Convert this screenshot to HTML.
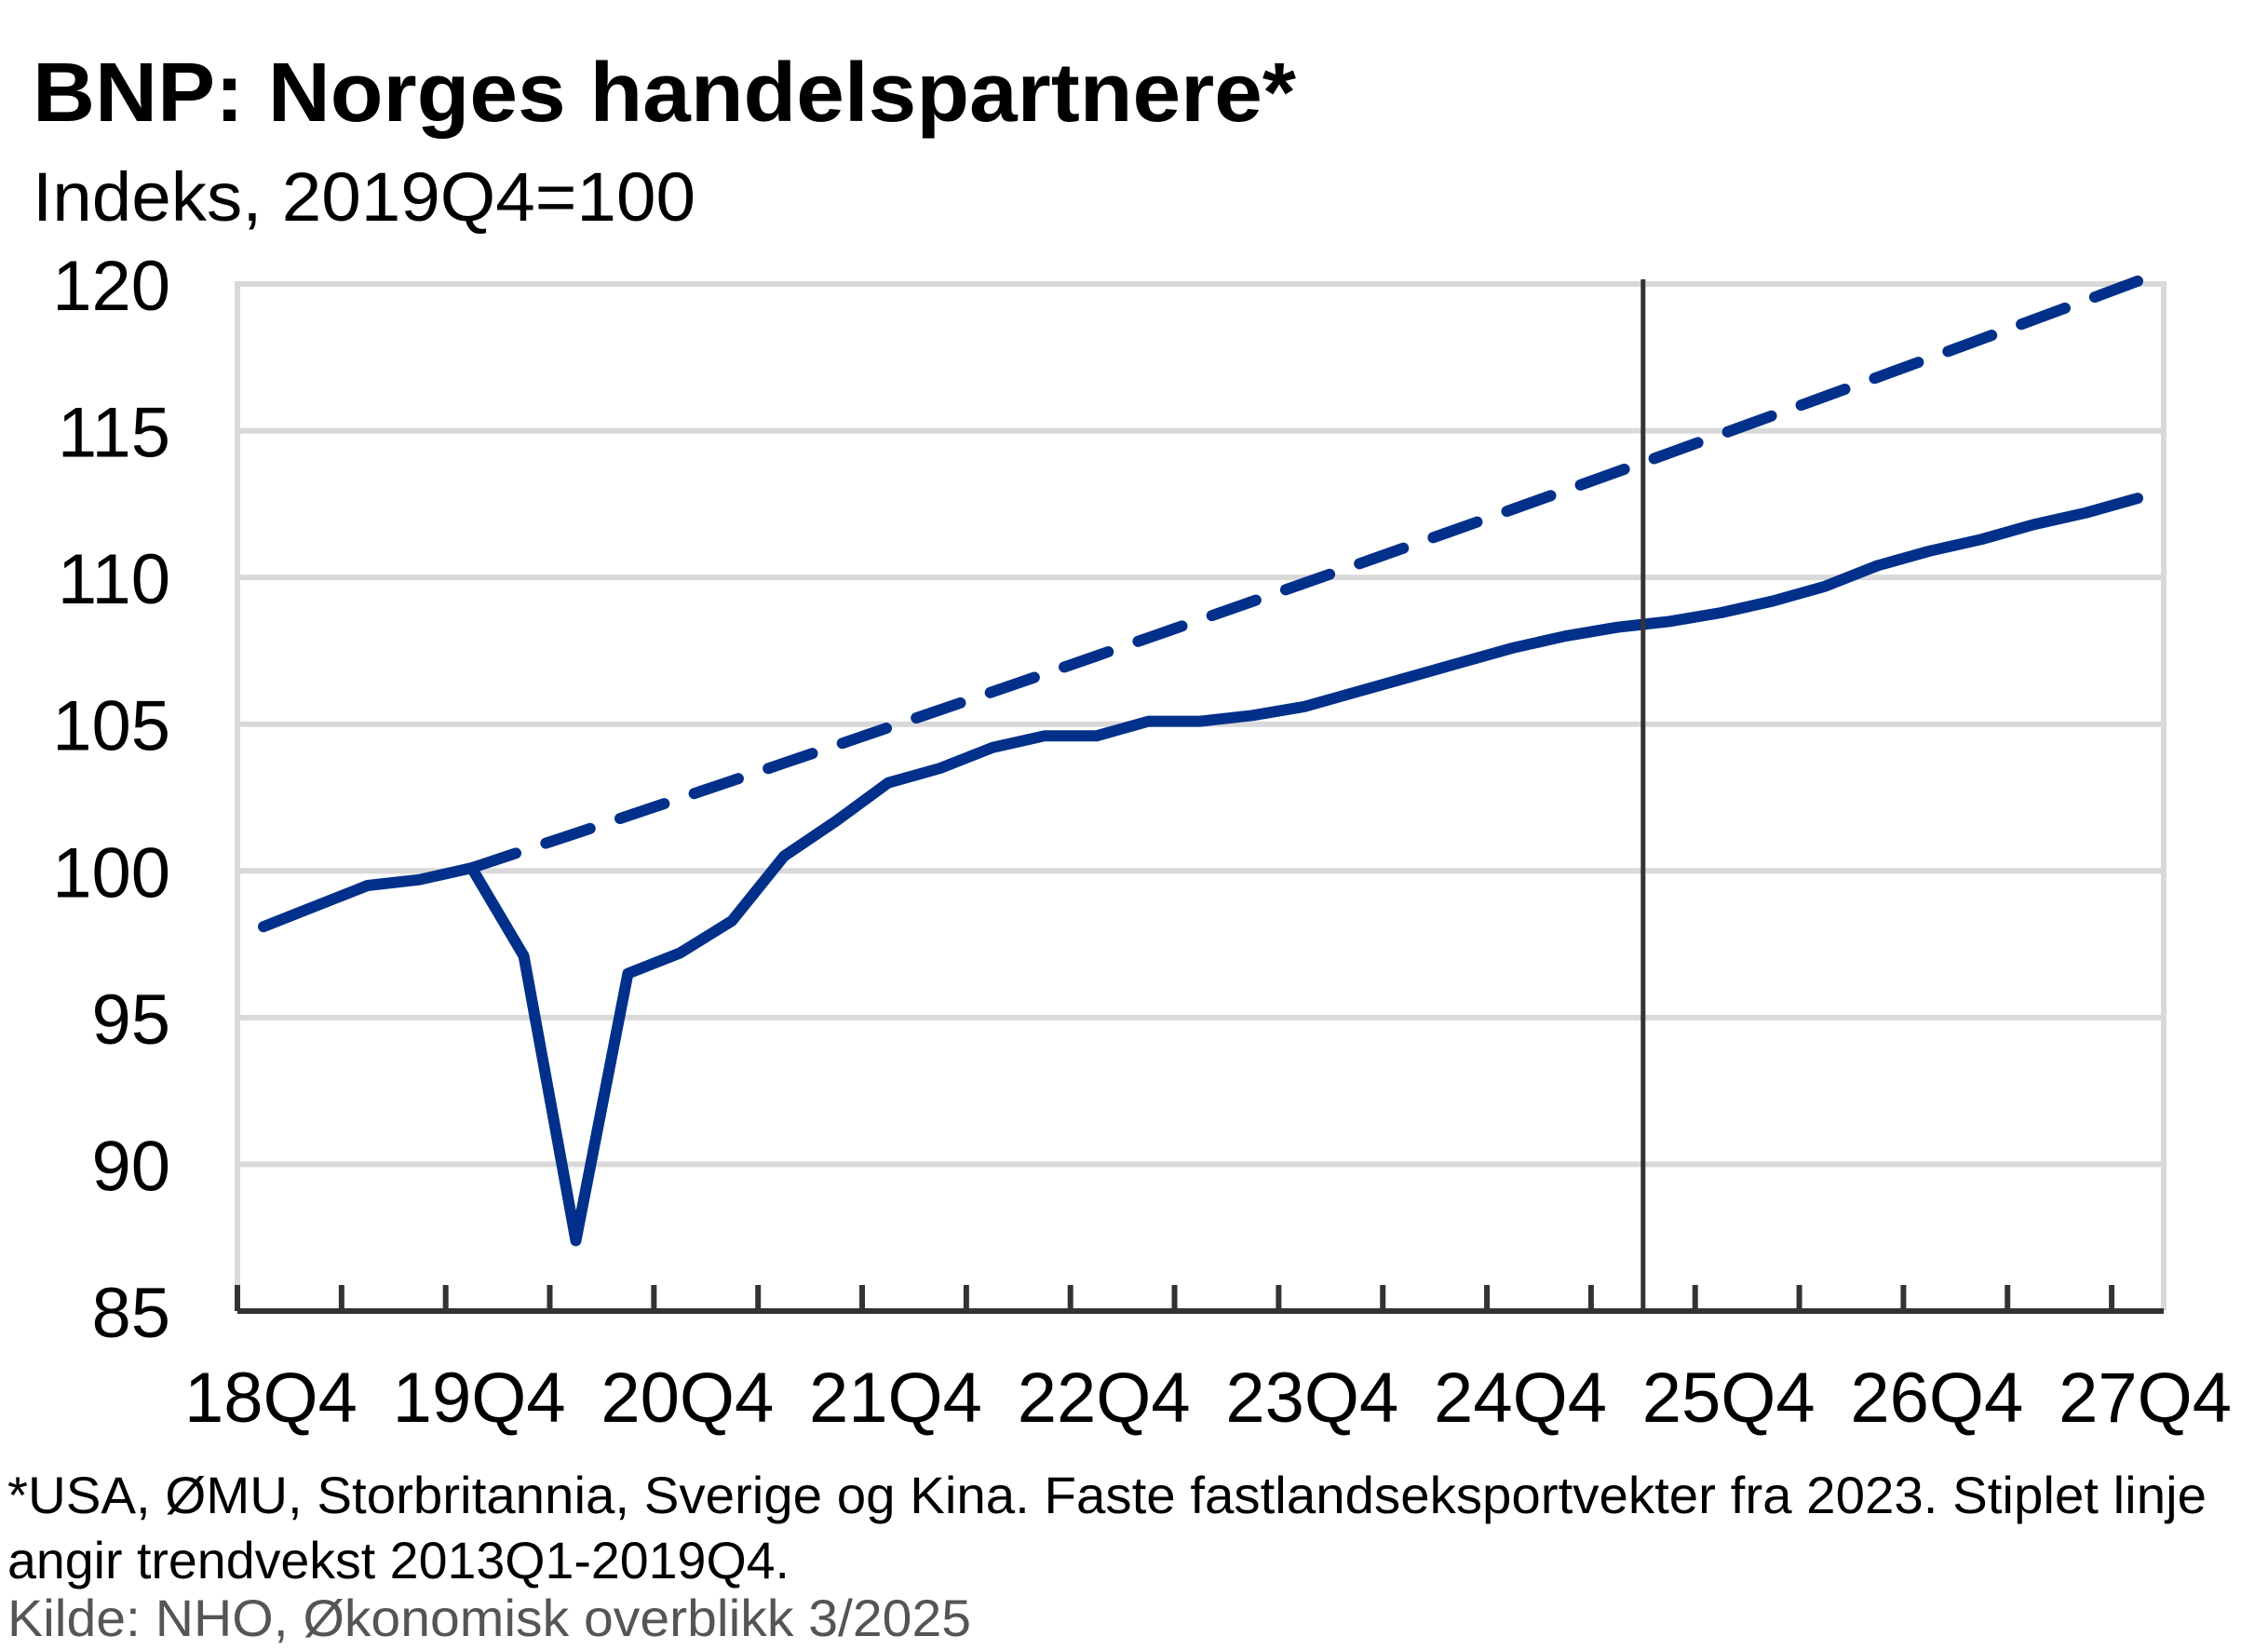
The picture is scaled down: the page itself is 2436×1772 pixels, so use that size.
<!DOCTYPE html>
<html><head><meta charset="utf-8"><style>
html,body{margin:0;padding:0;background:#fff}
svg{display:block}
text{font-family:"Liberation Sans",sans-serif}
</style></head><body>
<svg id="s" width="2436" height="1772" viewBox="0 0 2436 1772" xmlns="http://www.w3.org/2000/svg">
<text x="35" y="130" font-size="90" font-weight="bold" textLength="1357" lengthAdjust="spacingAndGlyphs" fill="#000">BNP:  Norges  handelspartnere*</text>
<text x="35" y="237" font-size="74" textLength="712" lengthAdjust="spacingAndGlyphs" fill="#000">Indeks, 2019Q4=100</text>
<g id="grid"></g>
<g id="lab" font-size="76" fill="#000"></g>
<text x="8" y="1625" font-size="56" textLength="2362" lengthAdjust="spacingAndGlyphs" fill="#000">*USA, ØMU, Storbritannia, Sverige og Kina. Faste fastlandseksportvekter fra 2023. Stiplet linje</text>
<text x="8" y="1695" font-size="56" textLength="840" lengthAdjust="spacingAndGlyphs" fill="#000">angir trendvekst 2013Q1-2019Q4.</text>
<text x="8" y="1757" font-size="56" textLength="1035" lengthAdjust="spacingAndGlyphs" fill="#555">Kilde: NHO, Økonomisk overblikk 3/2025</text>
</svg>
<script>
var NS="http://www.w3.org/2000/svg";
var L=255,R=2324,T=305,B=1408,n=37,w=(R-L)/n;
function Y(v){return B-(v-85)*(B-T)/35;}
function X(i){return L+(i+0.5)*w;}
function el(t,a,p,txt){var e=document.createElementNS(NS,t);for(var k in a)e.setAttribute(k,a[k]);if(txt)e.textContent=txt;p.appendChild(e);return e;}
var g=document.getElementById('grid'),s=document.getElementById('s'),lab=document.getElementById('lab');
for(var v=90;v<=120;v+=5){el('line',{x1:L,x2:R,y1:Y(v),y2:Y(v),stroke:'#d9d9d9','stroke-width':6},g);}
el('line',{x1:L,x2:L,y1:T-3,y2:B,stroke:'#d9d9d9','stroke-width':6},g);
el('line',{x1:R,x2:R,y1:T-3,y2:B,stroke:'#d9d9d9','stroke-width':6},g);
for(var v=85;v<=120;v+=5){el('text',{x:183,y:Y(v)+28,'text-anchor':'end'},lab,String(v));}
var yrs=['18Q4','19Q4','20Q4','21Q4','22Q4','23Q4','24Q4','25Q4','26Q4','27Q4'];
for(var k=0;k<yrs.length;k++){el('text',{x:X(k*4)+8,y:1527,'text-anchor':'middle'},lab,yrs[k]);}
var sol=[98.1,98.8,99.5,99.7,100.1,97.1,87.4,96.5,97.2,98.3,100.5,101.7,103.0,103.5,104.2,104.6,104.6,105.1,105.1,105.3,105.6,106.1,106.6,107.1,107.6,108.0,108.3,108.5,108.8,109.2,109.7,110.4,110.9,111.3,111.8,112.2,112.7];
var p=[];for(var i=0;i<sol.length;i++)p.push(X(i).toFixed(1)+','+Y(sol[i]).toFixed(1));
var d=[];for(var i=4;i<=36;i++){var t=i-4;d.push(X(i).toFixed(1)+','+Y(100.1+0.5886*t+0.001136*t*t).toFixed(1));}
el('polyline',{points:d.join(' '),fill:'none',stroke:'#00308a','stroke-width':12,'stroke-dasharray':'50 34','stroke-linecap':'round','stroke-linejoin':'round'},s);
el('polyline',{points:p.join(' '),fill:'none',stroke:'#00308a','stroke-width':12,'stroke-linejoin':'round','stroke-linecap':'round'},s);
el('line',{x1:L,x2:R,y1:B,y2:B,stroke:'#333','stroke-width':6},s);
for(var i=0;i<=n;i+=2){el('line',{x1:L+i*w,x2:L+i*w,y1:B-28,y2:B,stroke:'#333','stroke-width':6},s);}
var vx=L+27*w;el('line',{x1:vx,x2:vx,y1:T-5,y2:B,stroke:'#333','stroke-width':5},s);
</script>
</body></html>
